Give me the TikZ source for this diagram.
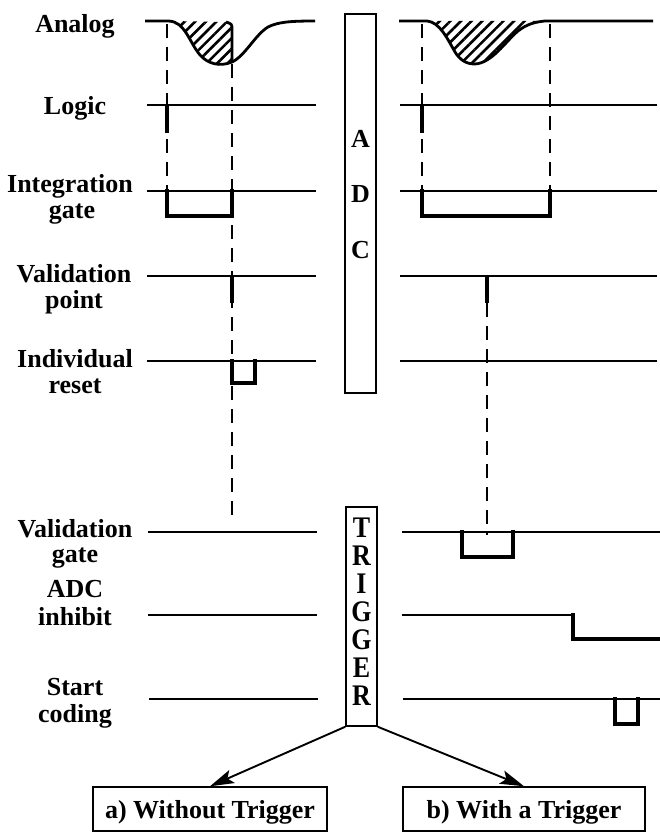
\documentclass[tikz,border=0pt]{standalone}
\usepackage{fontspec}
\setmainfont{Liberation Serif}
\usetikzlibrary{arrows.meta,patterns.meta}
\newcommand{\tall}[1]{\scalebox{1}[1.15]{#1}}
\begin{document}
\begin{tikzpicture}[x=1pt,y=-1pt,
  lbl/.style={font=\fontsize{26}{28}\selectfont\bfseries, inner sep=0pt, anchor=base},
  boxr/.style={draw, line width=1.5pt, inner sep=0pt},
  thin/.style={line width=1.6pt},
  thick/.style={line width=4.6pt, line join=miter},
  dsh/.style={line width=1.2pt, dash pattern=on 14pt off 9pt},
  ana/.style={line width=2.8pt, line join=round},
  hatch/.style={pattern={Lines[angle=45,distance=7.5pt,line width=2.6pt]}},
  arr/.style={line width=1.9pt, -{Stealth[length=24pt,width=14pt,inset=5pt]}}
]
\useasboundingbox (0,0) rectangle (660,832);

% ---------- labels ----------
\node[lbl] (lAnalog) at (75,33) {Analog};
\node[lbl] (lLogic) at (75,115) {Logic};
\node[lbl] (lInt1) at (70,192) {Integration};
\node[lbl] (lInt2) at (72,218) {gate};
\node[lbl] (lVp1) at (74,282) {Validation};
\node[lbl] (lVp2) at (74,308) {point};
\node[lbl] (lIr1) at (75,367) {Individual};
\node[lbl] (lIr2) at (75,393) {reset};
\node[lbl] (lVg1) at (75,537) {Validation};
\node[lbl] (lVg2) at (75,562) {gate};
\node[lbl] (lAi1) at (75,597) {ADC};
\node[lbl] (lAi2) at (75,625) {inhibit};
\node[lbl] (lSc1) at (75,695) {Start};
\node[lbl] (lSc2) at (75,722) {coding};

% ---------- ADC box ----------
\node[boxr, minimum width=31pt, minimum height=379pt] (adc) at (360.5,203.5) {};
\node[lbl] (adcA) at (360.5,147) {A};
\node[lbl] (adcD) at (360.5,202) {D};
\node[lbl] (adcC) at (360.5,258) {C};

% ---------- TRIGGER box ----------
\node[boxr, minimum width=31pt, minimum height=219pt] (trig) at (361.5,616.5) {};
\node[lbl] (t1) at (361.5,537) {\tall{T}};
\node[lbl] (t2) at (361.5,565) {\tall{R}};
\node[lbl] (t3) at (361.5,593) {\tall{I}};
\node[lbl] (t4) at (361.5,621) {\tall{G}};
\node[lbl] (t5) at (361.5,649) {\tall{G}};
\node[lbl] (t6) at (361.5,677) {\tall{E}};
\node[lbl] (t7) at (361.5,705) {\tall{R}};

% ---------- bottom boxes ----------
\node[boxr, font=\fontsize{26}{28}\selectfont\bfseries, text height=18pt, text depth=0pt,
      minimum width=234pt, minimum height=44pt] (boxa) at (210,809) {a) Without Trigger};
\node[boxr, font=\fontsize{26}{28}\selectfont\bfseries, text height=18pt, text depth=0pt,
      minimum width=242pt, minimum height=44pt] (boxb) at (524,809) {b) With a Trigger};
\draw[arr] (trig.south west) -- (boxa.north);
\draw[arr] (trig.south east) -- (boxb.north);

% ---------- analog, left ----------
\fill[hatch] (170,21) .. controls (185,21) and (189,42) .. (200,55)
   .. controls (208,64) and (220,67) .. (232,62) -- (232,30)
   .. controls (232,24) .. (226,22) -- cycle;
\draw[ana] (232,62) -- (232,30) .. controls (232,24) .. (226,22);
\draw[ana] (145,21) -- (168,21) .. controls (185,21) and (189,42) .. (200,55)
   .. controls (208,64) and (220,67) .. (232,62)
   .. controls (245,56) and (255,35) .. (268,27)
   .. controls (278,22) and (290,21) .. (315,21);

% ---------- analog, right ----------
\fill[hatch] (427,21) .. controls (440,22) and (448,40) .. (455,52)
   .. controls (460,60) and (466,64) .. (475,64)
   .. controls (492,63) and (505,42) .. (518,31)
   .. controls (527,24) and (535,22) .. (545,21) -- cycle;
\draw[ana] (399,21) -- (427,21) .. controls (440,22) and (448,40) .. (455,52)
   .. controls (460,60) and (466,64) .. (475,64)
   .. controls (492,63) and (505,42) .. (518,31)
   .. controls (527,24) and (535,22) .. (545,21) -- (653,21);

% ---------- dashed markers ----------
\draw[dsh] (167,24) -- (167,191);
\draw[dsh] (232,64) -- (232,517);
\draw[dsh] (422,24) -- (422,191);
\draw[dsh] (550,24) -- (550,191);
\draw[dsh] (487,303) -- (487,535);

% ---------- Logic ----------
\draw[thin] (147,105) -- (316,105);
\draw[thick] (167,105) -- (167,133);
\draw[thin] (400,105) -- (657,105);
\draw[thick] (422,105) -- (422,133);

% ---------- Integration gate ----------
\draw[thin] (147,191) -- (316,191);
\draw[thick] (167,189) -- (167,216) -- (232,216) -- (232,189);
\draw[thin] (400,191) -- (657,191);
\draw[thick] (422,189) -- (422,216) -- (550,216) -- (550,189);

% ---------- Validation point ----------
\draw[thin] (147,276) -- (316,276);
\draw[thick] (232,275) -- (232,303);
\draw[thin] (400,276) -- (657,276);
\draw[thick] (487,275) -- (487,303);

% ---------- Individual reset ----------
\draw[thin] (147,361) -- (316,361);
\draw[thick] (232,359) -- (232,383) -- (255,383) -- (255,359);
\draw[thin] (400,361) -- (657,361);

% ---------- Validation gate ----------
\draw[thin] (148,532) -- (317,532);
\draw[thin] (402,532) -- (660,532);
\draw[thick] (462,530) -- (462,557) -- (513,557) -- (513,530);

% ---------- ADC inhibit ----------
\draw[thin] (148,615) -- (317,615);
\draw[thin] (402,615) -- (573,615);
\draw[thick] (573,613) -- (573,639) -- (660,639);

% ---------- Start coding ----------
\draw[thin] (149,699) -- (318,699);
\draw[thin] (403,699) -- (660,699);
\draw[thick] (615,697) -- (615,724) -- (638,724) -- (638,697);
\end{tikzpicture}
\end{document}
